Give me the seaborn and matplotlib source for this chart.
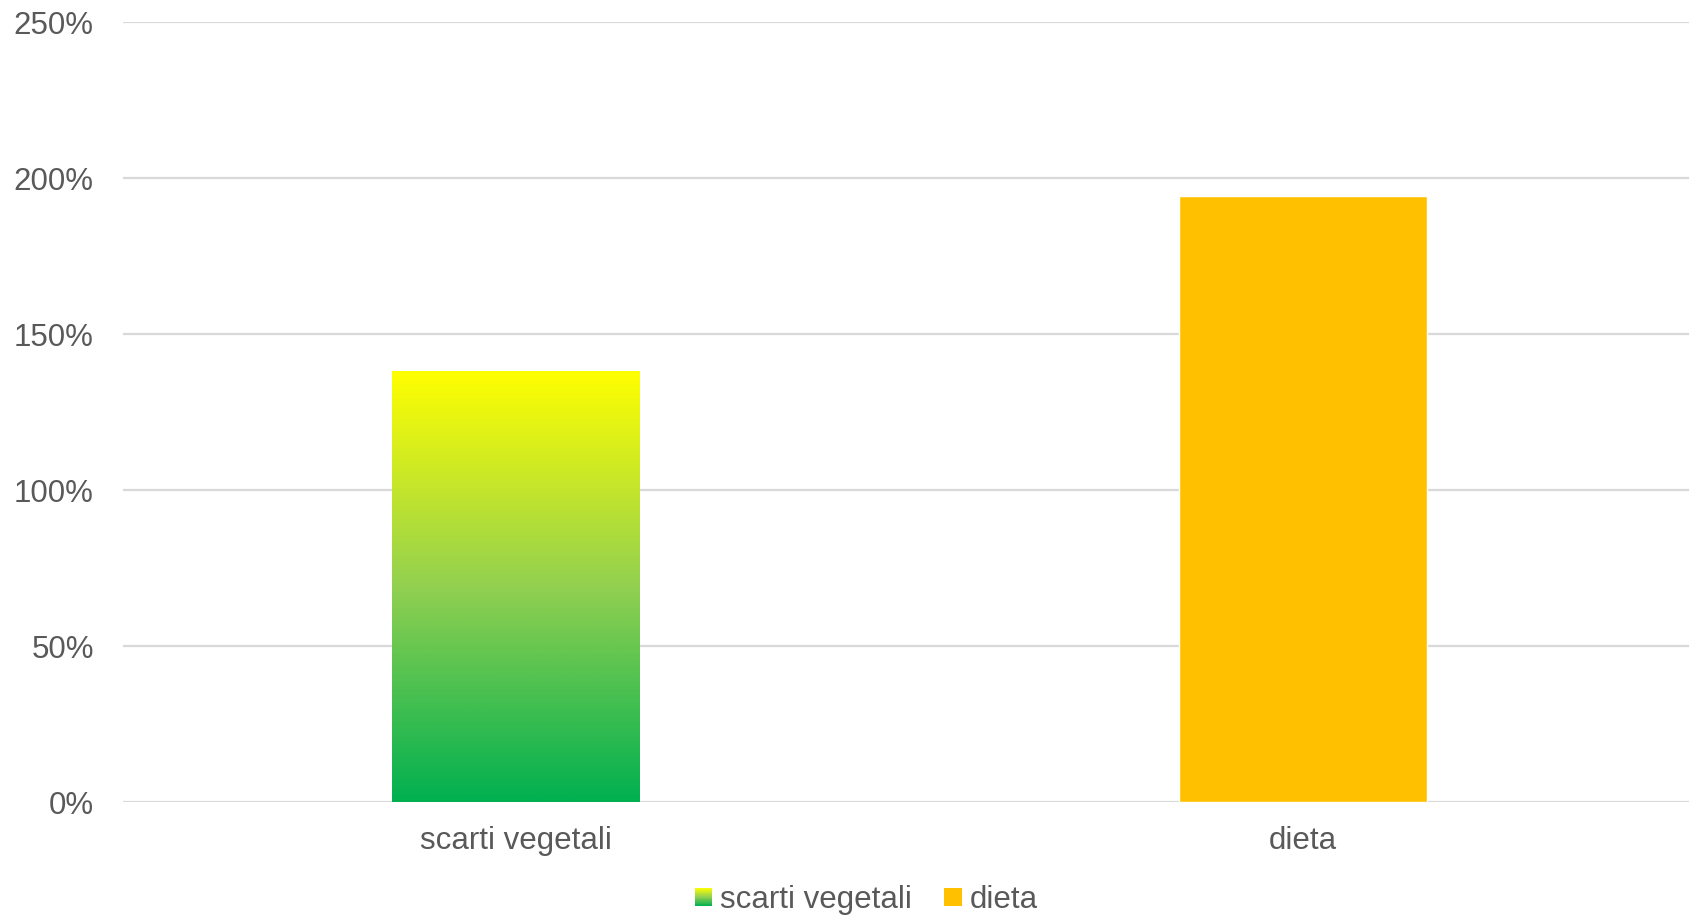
import numpy as np
import matplotlib
matplotlib.use("Agg")
import matplotlib.pyplot as plt
import seaborn as sns
import pandas as pd
from matplotlib.patches import Rectangle
from matplotlib.legend_handler import HandlerBase
from matplotlib.colors import LinearSegmentedColormap

categories = ["scarti vegetali", "dieta"]
values = [1.381, 1.942]
y_ticks = [0, 0.5, 1.0, 1.5, 2.0, 2.5]
y_tick_labels = ["0%", "50%", "100%", "150%", "200%", "250%"]

GRAD_TOP = "#FFFF00"
GRAD_MID = "#92D050"
GRAD_BOTTOM = "#00B050"
DIETA = "#FFC000"
TEXT = "#595959"
GRID = "#D9D9D9"

sns.set_theme(style="white")
plt.rcParams["font.family"] = ["Liberation Sans", "DejaVu Sans"]

cmap = LinearSegmentedColormap.from_list("g", [GRAD_BOTTOM, GRAD_MID, GRAD_TOP])

W, H = 1690, 919
fig = plt.figure(figsize=(W / 100, H / 100), dpi=100)
left_px, right_px = 123, 1690
bot_px, top_px = 802, 22
ax = fig.add_axes([left_px / W, 1 - bot_px / H, (right_px - left_px) / W, (bot_px - top_px) / H])

df = pd.DataFrame({"cat": categories, "val": values})
sns.barplot(data=df, x="cat", y="val", hue="cat", palette=[GRAD_TOP, DIETA],
            width=0.315, legend=False, ax=ax, saturation=1)

cat_w = 786.5
xlim = (-0.5, -0.5 + (right_px - left_px) / cat_w)

# gradient fill for first bar
p = ax.patches[0]
x0, y0 = p.get_x(), p.get_y()
w, h = p.get_width(), p.get_height()
grad = np.linspace(0, 1, 256).reshape(-1, 1)
im = ax.imshow(grad, cmap=cmap, origin="lower", aspect="auto",
               extent=[x0, x0 + w, y0, y0 + h], zorder=p.get_zorder())
im.set_clip_path(p)
p.set_facecolor("none")
p.set_edgecolor("none")
ax.set_xlim(*xlim)
ax.set_ylim(0, 2.5)

ax.set_yticks(y_ticks)
ax.set_yticklabels(y_tick_labels)
ax.yaxis.grid(True, color=GRID, linewidth=1.6)
ax.set_axisbelow(True)
for s in ax.spines.values():
    s.set_visible(False)
ax.tick_params(axis="both", length=0, labelsize=22.5, labelcolor=TEXT)
ax.tick_params(axis="y", pad=21)
ax.tick_params(axis="x", pad=17.5)
ax.set_xlabel("")
ax.set_ylabel("")


class GradientHandler(HandlerBase):
    def create_artists(self, legend, orig_handle, xdescent, ydescent, width, height, fontsize, trans):
        n = 30
        arts = []
        for i in range(n):
            c = cmap(i / (n - 1))
            r = Rectangle((-xdescent, -ydescent + height * i / n), width, height / n + 0.01,
                          facecolor=c, edgecolor="none", transform=trans)
            arts.append(r)
        return arts


h1 = Rectangle((0, 0), 1, 1, facecolor=GRAD_TOP)
h2 = Rectangle((0, 0), 1, 1, facecolor=DIETA, edgecolor="none")
fig.legend([h1, h2], categories, handler_map={h1: GradientHandler()},
           loc="center", bbox_to_anchor=(866.5 / W, 1 - 900 / H), ncol=2,
           frameon=False, fontsize=22.5, labelcolor=TEXT,
           handlelength=0.55, handleheight=0.55, handletextpad=0.26,
           columnspacing=1.03, borderpad=0, borderaxespad=0)

fig.savefig("out.png", dpi=100)
